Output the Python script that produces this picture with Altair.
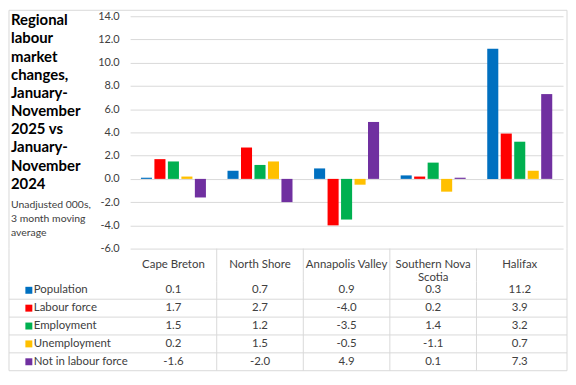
import altair as alt
import pandas as pd

# ---- data ----
regions = ["Cape Breton", "North Shore", "Annapolis Valley", "Southern Nova Scotia", "Halifax"]
region_labels = ["Cape Breton", "North Shore", "Annapolis Valley", "Southern Nova\nScotia", "Halifax"]
series = ["Population", "Labour force", "Employment", "Unemployment", "Not in labour force"]
colors = ["#0070C0", "#FF0000", "#00B050", "#FFC000", "#7030A0"]

population = [0.1, 0.7, 0.9, 0.3, 11.2]
labour_force = [1.7, 2.7, -4.0, 0.2, 3.9]
employment = [1.5, 1.2, -3.5, 1.4, 3.2]
unemployment = [0.2, 1.5, -0.5, -1.1, 0.7]
not_in_labour_force = [-1.6, -2.0, 4.9, 0.1, 7.3]

yticks = [-6, -4, -2, 0, 2, 4, 6, 8, 10, 12, 14]

title_text = "Regional\nlabour\nmarket\nchanges,\nJanuary-\nNovember\n2025 vs\nJanuary-\nNovember\n2024"
subtitle_text = "Unadjusted 000s,\n3 month moving\naverage"

values = {
    "Population": population,
    "Labour force": labour_force,
    "Employment": employment,
    "Unemployment": unemployment,
    "Not in labour force": not_in_labour_force,
}
rows = []
for s in series:
    for r, v in zip(regions, values[s]):
        rows.append({"region": r, "series": s, "value": v})
df = pd.DataFrame(rows)

# ---- layout / style ----
W = 436
H = 234
HH = 33
RH = 18
LEFT = -122
RIGHT = W + 4
FONT = "Lato"
TXT = "#404040"
GRID = "#d9d9d9"
LBL = "replace(format(datum.value, '.1f'), '\u2212', '-')"

xband = alt.Scale(domain=regions, type="band", paddingInner=0, paddingOuter=0)
yband = alt.Scale(domain=series, type="band", paddingInner=0, paddingOuter=0)
cscale = alt.Scale(domain=series, range=colors)
one = pd.DataFrame({"k": [0]})


def vborders(h, top=0):
    l = alt.Chart(one).mark_rule(color=GRID).encode(
        x=alt.value(LEFT), y=alt.value(top), y2=alt.value(h))
    r = alt.Chart(one).mark_rule(color=GRID).encode(
        x=alt.value(RIGHT), y=alt.value(top), y2=alt.value(h))
    return [l, r]


# ---- bar chart ----
bars = alt.Chart(df).mark_bar().encode(
    x=alt.X("region:N", sort=regions, scale=xband, axis=None),
    xOffset=alt.XOffset("series:N", sort=series,
                        scale=alt.Scale(domain=series, paddingInner=0.18, paddingOuter=0.8)),
    y=alt.Y("value:Q",
            scale=alt.Scale(domain=[-6, 14], nice=False, zero=False),
            axis=alt.Axis(values=yticks, labelExpr=LBL, ticks=False, domain=False,
                          grid=True, gridColor=GRID, gridWidth=1, labelPadding=11,
                          labelFont=FONT, labelFontSize=11, labelColor=TXT, title=None)),
    color=alt.Color("series:N", scale=cscale, legend=None),
)

top_border = alt.Chart(one).mark_rule(color=GRID).encode(
    x=alt.value(LEFT), x2=alt.value(RIGHT), y=alt.value(-6))

title = alt.Chart(pd.DataFrame({"t": [title_text]})).mark_text(
    align="left", baseline="top", lineBreak="\n", font=FONT, fontSize=15,
    fontWeight="bold", lineHeight=18.3, color="black"
).encode(x=alt.value(LEFT + 2), y=alt.value(-3), text="t:N")

subtitle = alt.Chart(pd.DataFrame({"t": [subtitle_text]})).mark_text(
    align="left", baseline="top", lineBreak="\n", font=FONT, fontSize=10.5,
    lineHeight=14, color=TXT
).encode(x=alt.value(LEFT + 2), y=alt.value(185), text="t:N")

bar_chart = alt.layer(bars, top_border, title, subtitle, *vborders(H, -6)).properties(
    width=W, height=H)

# ---- header row ----
hdr_df = pd.DataFrame({"region": regions, "label": region_labels})
hdr_text = alt.Chart(hdr_df).mark_text(
    lineBreak="\n", font=FONT, fontSize=11.5, color=TXT, baseline="middle", lineHeight=13.5
).encode(
    x=alt.X("region:N", sort=regions, scale=xband, axis=None, bandPosition=0.5),
    y=alt.value(HH / 2),
    text="label:N",
)
hdr_sep = alt.Chart(hdr_df).transform_filter(
    alt.datum.region != regions[0]
).mark_rule(color=GRID).encode(
    x=alt.X("region:N", sort=regions, scale=xband, axis=None, bandPosition=0),
    y=alt.value(0), y2=alt.value(HH),
)
hdr_chart = alt.layer(hdr_sep, hdr_text, *vborders(HH)).properties(width=W, height=HH)

# ---- data table rows ----
TH = RH * len(series)
val_text = alt.Chart(df).transform_calculate(lbl=LBL).mark_text(
    font=FONT, fontSize=11.5, color=TXT, baseline="middle"
).encode(
    x=alt.X("region:N", sort=regions, scale=xband, axis=None, bandPosition=0.5),
    y=alt.Y("series:N", sort=series, scale=yband, axis=None, bandPosition=0.5),
    text="lbl:N",
)
leg_df = pd.DataFrame({"series": series})
leg_sq = alt.Chart(leg_df).mark_square(size=49, opacity=1).encode(
    x=alt.value(-102),
    y=alt.Y("series:N", sort=series, scale=yband, axis=None, bandPosition=0.5),
    color=alt.Color("series:N", scale=cscale, legend=None),
)
leg_txt = alt.Chart(leg_df).mark_text(
    align="left", baseline="middle", font=FONT, fontSize=11.5, color=TXT
).encode(
    x=alt.value(-97),
    y=alt.Y("series:N", sort=series, scale=yband, axis=None, bandPosition=0.5),
    text="series:N",
)
row_lines = alt.Chart(leg_df).mark_rule(color=GRID).encode(
    y=alt.Y("series:N", sort=series, scale=yband, axis=None, bandPosition=1),
    x=alt.value(LEFT), x2=alt.value(RIGHT),
)
row_sep = alt.Chart(hdr_df).transform_filter(
    alt.datum.region != regions[0]
).mark_rule(color=GRID).encode(
    x=alt.X("region:N", sort=regions, scale=xband, axis=None, bandPosition=0),
    y=alt.value(0), y2=alt.value(TH),
)
table_chart = alt.layer(row_lines, row_sep, leg_sq, leg_txt, val_text, *vborders(TH)).properties(
    width=W, height=TH)

chart = alt.vconcat(bar_chart, hdr_chart, table_chart, spacing=0, bounds="flush").properties(
    padding=0
).configure_view(strokeWidth=0)

chart.save("out.html", embed_options={"renderer": "svg", "actions": False})
